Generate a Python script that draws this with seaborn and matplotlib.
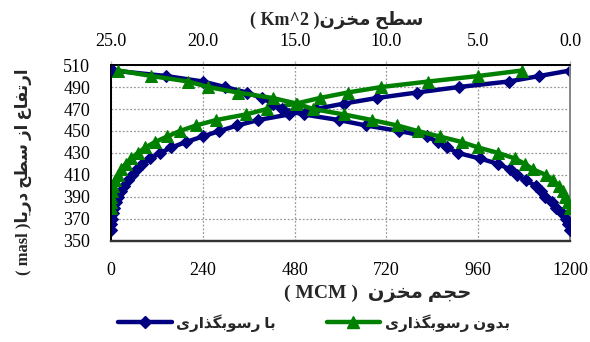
import matplotlib
matplotlib.use("Agg")
import matplotlib.pyplot as plt
from matplotlib.lines import Line2D
import seaborn as sns
import pandas as pd

# ---------------- data ----------------
elev_with = [360, 365, 370, 375, 380, 385, 390, 395, 400, 405, 410, 415, 420, 425, 430,
             435, 440, 445, 450, 455, 460, 465, 470, 475, 480, 485, 490, 495, 500, 505]
vol_with = [0, 1, 3, 5, 8, 13, 19, 26, 35, 45, 56, 69, 82, 103, 128,
            158, 196, 240, 283, 330, 385, 465, 535, 610, 695, 800, 910, 1040, 1120, 1200]
area_with = [0.0, 0.1, 0.2, 0.45, 0.75, 1.0, 1.35, 1.6, 1.85, 2.4, 2.9, 3.25, 3.9, 4.9, 6.1,
             6.7, 7.2, 7.8, 9.3, 11.1, 12.6, 14.5, 15.7, 16.2, 16.8, 17.6, 18.8, 20.0, 22.0, 24.9]

elev_without = [380, 385, 390, 395, 400, 405, 410, 415, 420, 425, 430, 435, 440,
                445, 450, 455, 460, 465, 470, 475, 480, 485, 490, 495, 500, 505]
vol_without = [0, 1, 1, 2, 5, 10, 18, 27, 38, 52, 70, 90, 115,
               147, 180, 222, 275, 352, 408, 485, 546, 619, 707, 830, 960, 1075]
area_without = [0.0, 0.1, 0.25, 0.4, 0.6, 0.9, 1.3, 2.0, 2.45, 3.0, 3.9, 5.0, 5.9,
                7.1, 8.3, 9.4, 10.8, 12.3, 14.0, 14.9, 16.2, 18.1, 19.7, 20.8, 22.8, 24.6]

vol_ticks = [0, 240, 480, 720, 960, 1200]
area_ticks = [25.0, 20.0, 15.0, 10.0, 5.0, 0.0]
elev_ticks = [350, 370, 390, 410, 430, 450, 470, 490, 510]

label_with = "با رسوبگذاری"
label_without = "بدون رسوبگذاری"
xlabel_fa = "حجم مخزن"
toplabel_fa = "سطح مخزن"
ylabel_fa = "ارتفاع از سطح دریا"

# ------------- simple Persian shaping (visual order) -------------
FORMS = {
    'ا': ('\uFE8D', '\uFE8E', None, None),
    'ب': ('\uFE8F', '\uFE90', '\uFE91', '\uFE92'),
    'ت': ('\uFE95', '\uFE96', '\uFE97', '\uFE98'),
    'ج': ('\uFE9D', '\uFE9E', '\uFE9F', '\uFEA0'),
    'ح': ('\uFEA1', '\uFEA2', '\uFEA3', '\uFEA4'),
    'خ': ('\uFEA5', '\uFEA6', '\uFEA7', '\uFEA8'),
    'د': ('\uFEA9', '\uFEAA', None, None),
    'ذ': ('\uFEAB', '\uFEAC', None, None),
    'ر': ('\uFEAD', '\uFEAE', None, None),
    'ز': ('\uFEAF', '\uFEB0', None, None),
    'س': ('\uFEB1', '\uFEB2', '\uFEB3', '\uFEB4'),
    'ط': ('\uFEC1', '\uFEC2', '\uFEC3', '\uFEC4'),
    'ع': ('\uFEC9', '\uFECA', '\uFECB', '\uFECC'),
    'ف': ('\uFED1', '\uFED2', '\uFED3', '\uFED4'),
    'م': ('\uFEE1', '\uFEE2', '\uFEE3', '\uFEE4'),
    'ن': ('\uFEE5', '\uFEE6', '\uFEE7', '\uFEE8'),
    'و': ('\uFEED', '\uFEEE', None, None),
    'ی': ('\uFBFC', '\uFBFD', '\uFBFE', '\uFBFF'),
    'گ': ('\uFB92', '\uFB93', '\uFB94', '\uFB95'),
}


def shape_word(word):
    out = []
    n = len(word)
    for i, ch in enumerate(word):
        f = FORMS.get(ch)
        if f is None:
            out.append(ch)
            continue
        prev = FORMS.get(word[i - 1]) if i > 0 else None
        prev_joins = prev is not None and prev[2] is not None
        nxt = FORMS.get(word[i + 1]) if i < n - 1 else None
        joins_next = f[2] is not None and nxt is not None
        if prev_joins and joins_next:
            out.append(f[3])
        elif prev_joins:
            out.append(f[1])
        elif joins_next:
            out.append(f[2])
        else:
            out.append(f[0])
    return ''.join(reversed(out))


def fa(text):
    return ' '.join(shape_word(w) for w in reversed(text.split(' ')))


# ---------------- style ----------------
sns.set_style("white")
plt.rcParams['font.family'] = ['Liberation Serif', 'DejaVu Sans']
FAM = ['Liberation Serif', 'DejaVu Sans']

navy = '#000080'
green = '#008000'

fig = plt.figure(figsize=(5.9, 3.42), dpi=100)
ax = fig.add_axes([111 / 590, 1 - 241 / 342, (570 - 111) / 590, (241 - 65) / 342])
ax2 = ax.twiny()

df_with = pd.DataFrame({'elev': elev_with, 'vol': vol_with, 'area': area_with})
df_without = pd.DataFrame({'elev': elev_without, 'vol': vol_without, 'area': area_without})

lw = 3.2
for axx, col in [(ax, 'vol'), (ax2, 'area')]:
    sns.lineplot(data=df_with, x=col, y='elev', ax=axx, estimator=None, sort=False,
                 color=navy, lw=lw, marker='D', markersize=6.5, markeredgecolor=navy,
                 legend=False, zorder=3)
for axx, col in [(ax, 'vol'), (ax2, 'area')]:
    sns.lineplot(data=df_without, x=col, y='elev', ax=axx, estimator=None, sort=False,
                 color=green, lw=lw, marker='^', markersize=8.5, markeredgecolor=green,
                 legend=False, zorder=4)

ax.set_xlim(0, 1200)
ax.set_ylim(350, 510)
ax2.set_xlim(25, 0)
ax.set_xticks(vol_ticks)
ax.set_xticklabels([str(v) for v in vol_ticks])
ax.set_yticks(elev_ticks)
ax.set_yticklabels([str(v) for v in elev_ticks])
ax2.set_xticks(area_ticks)
ax2.set_xticklabels([f"{v:.1f}" for v in area_ticks])

ax.set_xlabel('')
ax.set_ylabel('')
ax2.set_xlabel('')
ax2.set_ylabel('')

ax.grid(True, color='#999999', linestyle=(0, (1.5, 1.5)), linewidth=0.9)
ax.set_axisbelow(True)

for a in (ax, ax2):
    a.tick_params(axis='both', labelsize=13, length=4, width=1, direction='out',
                  colors='black')
    for lab in a.get_xticklabels() + a.get_yticklabels():
        lab.set_family(FAM)
ax.tick_params(axis='x', length=0, pad=15)
ax2.tick_params(axis='x', length=3, color='#bbbbbb', pad=8)
ax.tick_params(axis='y', length=5, pad=10)

for a in (ax, ax2):
    a.spines['left'].set_color('black')
    a.spines['left'].set_linewidth(1.3)
    a.spines['top'].set_color('black')
    a.spines['top'].set_linewidth(1.3)
    a.spines['bottom'].set_color('#333333')
    a.spines['bottom'].set_linewidth(1.6)
    a.spines['right'].set_color('#888888')
    a.spines['right'].set_linewidth(1.3)

# titles / labels
fig.text(337 / 590, 1 - 20 / 342, "( Km^2 )" + fa(toplabel_fa), ha='center', va='center',
         fontsize=13, fontweight='bold', family=FAM)
fig.text(378 / 590, 1 - 293 / 342, "( MCM )  " + fa(xlabel_fa), ha='center', va='center',
         fontsize=14, fontweight='bold', family=FAM)
fig.text(23 / 590, 1 - 172 / 342, "( masl )" + fa(ylabel_fa), ha='center', va='center',
         rotation=90, fontsize=12, fontweight='bold', family=FAM)

handles = [
    Line2D([], [], color=navy, lw=lw, marker='D', markersize=6.5, markeredgecolor=navy),
    Line2D([], [], color=green, lw=lw, marker='^', markersize=8.5, markeredgecolor=green),
]
leg = fig.legend(handles, [fa(label_with), fa(label_without)], ncol=2, loc='center',
                 bbox_to_anchor=(314 / 590, 1 - 323 / 342), frameon=False,
                 handlelength=3.5, handletextpad=0.3, columnspacing=3.3, numpoints=1,
                 prop={'family': FAM, 'size': 11, 'weight': 'bold'})

fig.savefig("out.png", dpi=100)
